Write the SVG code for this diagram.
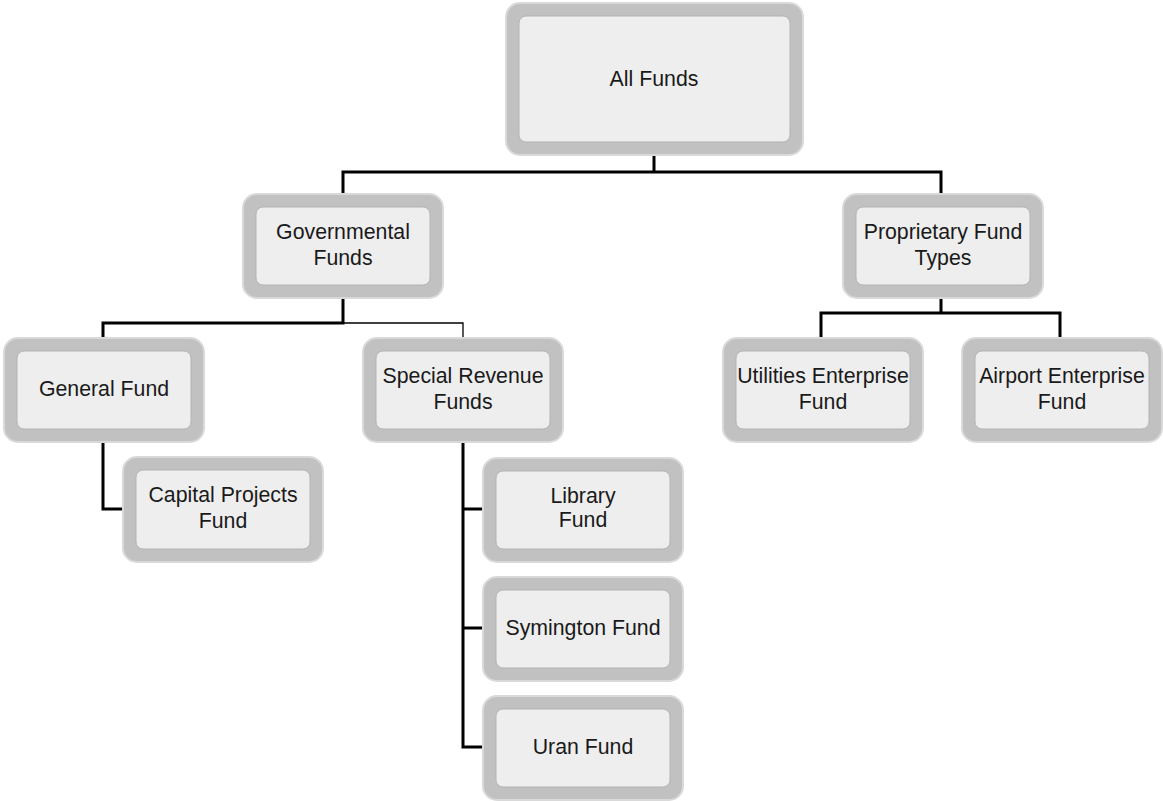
<svg xmlns="http://www.w3.org/2000/svg" width="1163" height="801" viewBox="0 0 1163 801">
  <style>
    .frame { fill: #c1c1c1; stroke: #d9d9d9; stroke-width: 2; }
    .face { fill: #eeeeee; stroke: #b3b3b3; stroke-width: 1; }
    .label { font-family: "Liberation Sans", Arial, sans-serif; font-size: 21.3px; fill: #1a1a1a; text-anchor: middle; }
    .link { fill: none; stroke: #000000; stroke-width: 3; stroke-linejoin: miter; }
    .link-thin { fill: none; stroke: #000000; stroke-width: 1.3; }
  </style>
  <rect width="1163" height="801" fill="#ffffff"/>

  <!-- tree connectors -->
  <g id="connectors">
    <path class="link" d="M654 155 V172 M343 194 V172 H941 V194"/>
    <path class="link" d="M343 298 V323 H103 V338"/>
    <path class="link-thin" d="M343 323 H463 V338"/>
    <path class="link" d="M103 442 V509 H123"/>
    <path class="link" d="M463 442 V747 H483 M463 509 H483 M463 628 H483"/>
    <path class="link" d="M941 298 V313 M821 338 V313 H1060 V338"/>
  </g>

  <g id="all-funds">
    <rect class="frame" x="506" y="3" width="297" height="152" rx="14"/>
    <rect class="face" x="519" y="16" width="271" height="126" rx="7"/>
    <text class="label" x="654" y="86">All Funds</text>
  </g>

  <g id="governmental-funds">
    <rect class="frame" x="243" y="194" width="200" height="104" rx="14"/>
    <rect class="face" x="256" y="207" width="174" height="78" rx="7"/>
    <text class="label" x="343" y="239">Governmental</text>
    <text class="label" x="343" y="265">Funds</text>
  </g>

  <g id="proprietary-fund-types">
    <rect class="frame" x="843" y="194" width="200" height="104" rx="14"/>
    <rect class="face" x="856" y="207" width="174" height="78" rx="7"/>
    <text class="label" x="943" y="239">Proprietary Fund</text>
    <text class="label" x="943" y="265">Types</text>
  </g>

  <g id="general-fund">
    <rect class="frame" x="4" y="338" width="200" height="104" rx="14"/>
    <rect class="face" x="17" y="351" width="174" height="78" rx="7"/>
    <text class="label" x="104" y="396">General Fund</text>
  </g>

  <g id="special-revenue-funds">
    <rect class="frame" x="363" y="338" width="200" height="104" rx="14"/>
    <rect class="face" x="376" y="351" width="174" height="78" rx="7"/>
    <text class="label" x="463" y="383">Special Revenue</text>
    <text class="label" x="463" y="409">Funds</text>
  </g>

  <g id="utilities-enterprise-fund">
    <rect class="frame" x="723" y="338" width="200" height="104" rx="14"/>
    <rect class="face" x="736" y="351" width="174" height="78" rx="7"/>
    <text class="label" x="823" y="383">Utilities Enterprise</text>
    <text class="label" x="823" y="409">Fund</text>
  </g>

  <g id="airport-enterprise-fund">
    <rect class="frame" x="962" y="338" width="200" height="104" rx="14"/>
    <rect class="face" x="975" y="351" width="174" height="78" rx="7"/>
    <text class="label" x="1062" y="383">Airport Enterprise</text>
    <text class="label" x="1062" y="409">Fund</text>
  </g>

  <g id="capital-projects-fund">
    <rect class="frame" x="123" y="457" width="200" height="105" rx="14"/>
    <rect class="face" x="136" y="470" width="174" height="79" rx="7"/>
    <text class="label" x="223" y="502">Capital Projects</text>
    <text class="label" x="223" y="528">Fund</text>
  </g>

  <g id="library-fund">
    <rect class="frame" x="483" y="458" width="200" height="104" rx="14"/>
    <rect class="face" x="496" y="471" width="174" height="78" rx="7"/>
    <text class="label" x="583" y="503">Library</text>
    <text class="label" x="583" y="527">Fund</text>
  </g>

  <g id="symington-fund">
    <rect class="frame" x="483" y="577" width="200" height="104" rx="14"/>
    <rect class="face" x="496" y="590" width="174" height="78" rx="7"/>
    <text class="label" x="583" y="635">Symington Fund</text>
  </g>

  <g id="uran-fund">
    <rect class="frame" x="483" y="696" width="200" height="104" rx="14"/>
    <rect class="face" x="496" y="709" width="174" height="78" rx="7"/>
    <text class="label" x="583" y="754">Uran Fund</text>
  </g>
</svg>
